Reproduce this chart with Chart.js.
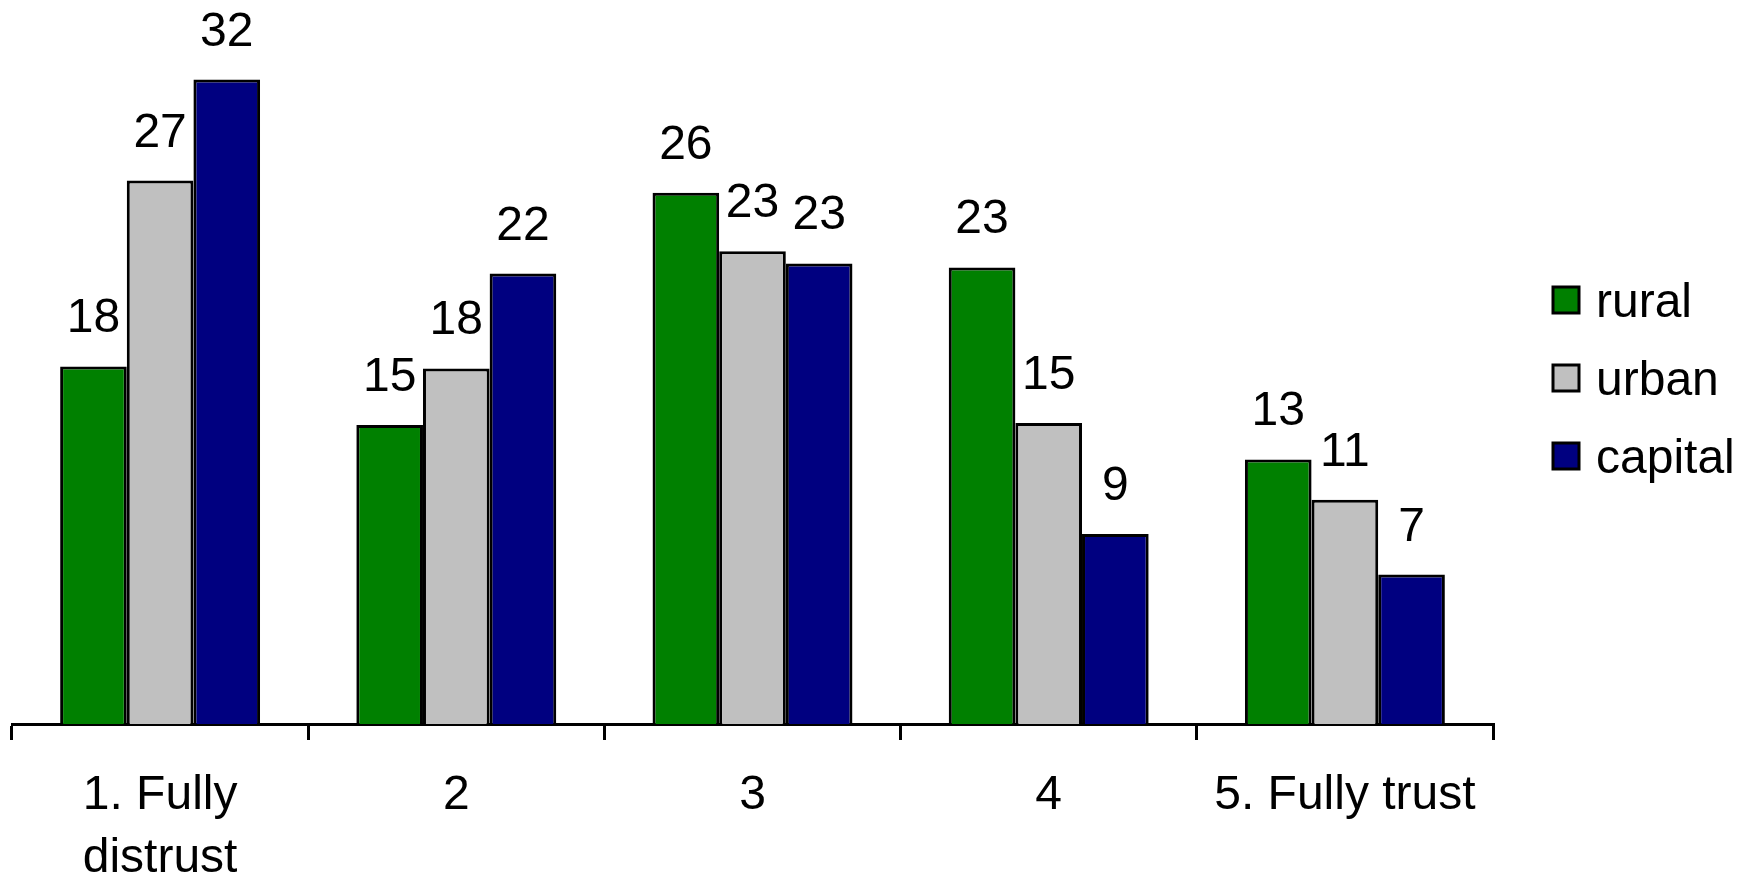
<!DOCTYPE html>
<html>
<head>
<meta charset="utf-8">
<script src="https://cdn.jsdelivr.net/npm/chart.js@4.4.1/dist/chart.umd.min.js"></script>
<style>
  html, body { margin: 0; padding: 0; background: #fff; }
  #wrap { width: 1748px; height: 878px; position: relative; }
</style>
</head>
<body>
<div id="wrap"><canvas id="chart"></canvas></div>
<script>
// ── Data ──────────────────────────────────────────────────────────────────
const CATEGORIES = [['1. Fully', 'distrust'], '2', '3', '4', '5. Fully trust'];
const SERIES     = ['rural', 'urban', 'capital'];
const RURAL      = [17.7, 14.8, 26.3, 22.6, 13.1];
const URBAN      = [26.9, 17.6, 23.4, 14.9, 11.1];
const CAPITAL    = [31.9, 22.3, 22.8,  9.4,  7.4];
const COLORS     = ['#008000', '#C0C0C0', '#000080'];

const FONT = 'Arial, "Liberation Sans", sans-serif';

// value labels above every bar
const valueLabels = {
  id: 'valueLabels',
  afterDatasetsDraw(chart) {
    const ctx = chart.ctx;
    ctx.save();
    ctx.font = '48px ' + FONT;
    ctx.fillStyle = '#000';
    ctx.textAlign = 'center';
    ctx.textBaseline = 'alphabetic';
    chart.data.datasets.forEach((ds, i) => {
      chart.getDatasetMeta(i).data.forEach((bar, j) => {
        ctx.fillText(String(Math.round(ds.data[j])), bar.x, bar.y - 34);
      });
    });
    ctx.restore();
  }
};

// legend on the right, drawn from the datasets
const sideLegend = {
  id: 'sideLegend',
  afterDraw(chart) {
    const ctx = chart.ctx;
    const x0 = chart.chartArea.right + 60;
    ctx.save();
    ctx.font = '48px ' + FONT;
    ctx.textAlign = 'left';
    ctx.textBaseline = 'alphabetic';
    chart.data.datasets.forEach((ds, i) => {
      const cy = 300 + i * 78;
      ctx.fillStyle = ds.backgroundColor;
      ctx.fillRect(x0, cy - 13, 26, 26);
      ctx.lineWidth = 3;
      ctx.strokeStyle = '#000';
      ctx.strokeRect(x0, cy - 13, 26, 26);
      ctx.fillStyle = '#000';
      ctx.fillText(ds.label, x0 + 43, cy + 17);
    });
    ctx.restore();
  }
};

const dataSeries = [RURAL, URBAN, CAPITAL];

new Chart(document.getElementById('chart'), {
  type: 'bar',
  data: {
    labels: CATEGORIES,
    datasets: SERIES.map((name, i) => ({
      label: name,
      data: dataSeries[i],
      backgroundColor: COLORS[i],
      borderColor: '#000',
      borderWidth: 3,
      categoryPercentage: 0.675,
      barPercentage: 1.0,
    })),
  },
  options: {
    responsive: true,
    maintainAspectRatio: false,
    animation: false,
    layout: { padding: { left: 12, right: 255, top: 17, bottom: 0 } },
    plugins: { legend: { display: false }, tooltip: { enabled: false } },
    scales: {
      x: {
        afterFit: s => { s.height = 154; },
        border: { display: true, color: '#000', width: 3 },
        grid: { drawOnChartArea: false, drawTicks: true, tickLength: 16, color: '#000', lineWidth: 3, offset: true },
        ticks: { color: '#000', padding: 24, maxRotation: 0, autoSkip: false, font: { family: FONT, size: 48, lineHeight: 1.3125 } },
      },
      y: { display: false, min: 0, max: 35 },
    },
  },
  plugins: [valueLabels, sideLegend],
});
</script>
</body>
</html>
